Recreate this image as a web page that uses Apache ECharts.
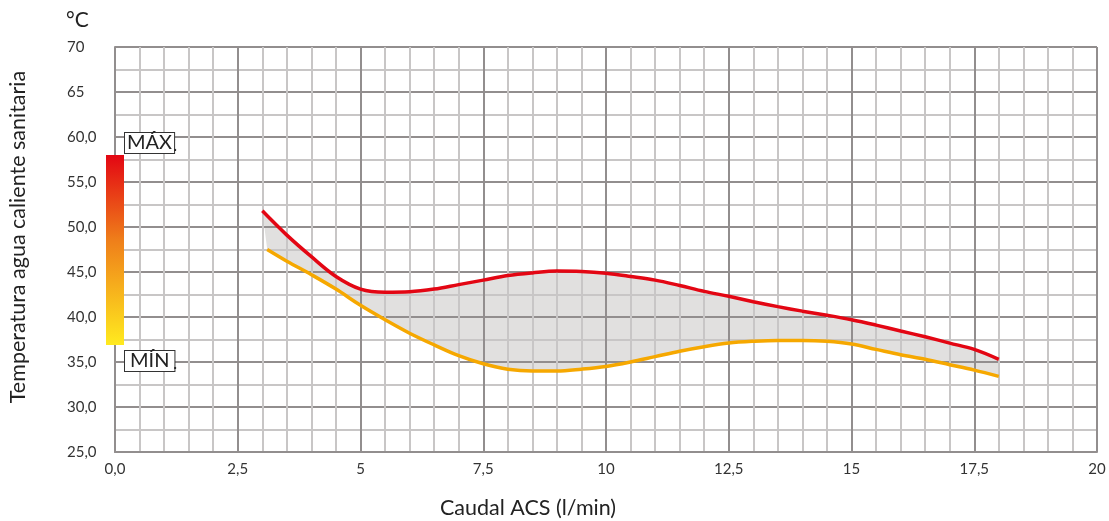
<!DOCTYPE html>
<html>
<head>
<meta charset="utf-8">
<script src="https://cdn.jsdelivr.net/npm/echarts@6/dist/echarts.min.js"></script>
<style>
html,body{margin:0;padding:0;background:#fff;}
#chart{width:1109px;height:521px;}
</style>
</head>
<body>
<div id="chart"></div>
<script>
// Data
const flowMax = [3.0,3.5,4.0,4.5,5.0,5.5,6.0,6.5,7.0,7.5,8.0,8.5,9.0,9.5,10.0,10.5,11.0,11.5,12.0,12.5,13.0,13.5,14.0,14.5,15.0,15.5,16.0,16.5,17.0,17.5,18.0];
const tempMax = [51.8,49.1,46.7,44.5,43.1,42.75,42.8,43.1,43.6,44.1,44.6,44.9,45.1,45.05,44.85,44.5,44.1,43.5,42.85,42.3,41.7,41.15,40.65,40.2,39.7,39.1,38.45,37.8,37.1,36.4,35.3];
const flowMin = [3.1,3.5,4.0,4.5,5.0,5.5,6.0,6.5,7.0,7.5,8.0,8.5,9.0,9.5,10.0,10.5,11.0,11.5,12.0,12.5,13.0,13.5,14.0,14.5,15.0,15.5,16.0,16.5,17.0,17.5,18.0];
const tempMin = [47.5,46.2,44.7,43.1,41.3,39.7,38.2,36.9,35.7,34.8,34.2,34.0,34.0,34.2,34.5,35.0,35.6,36.2,36.7,37.1,37.3,37.4,37.4,37.3,37.0,36.4,35.8,35.3,34.7,34.1,33.4];
const xTickValues = [0,2.5,5,7.5,10,12.5,15,17.5,20];
const xTickLabels = ['0,0','2,5','5','7,5','10','12,5','15','17,5','20'];
const yTickValues = [25,30,35,40,45,50,55,60,65,70];
const yTickLabels = ['25,0','30,0','35,0','40,0','45,0','50,0','55,0','60,0','65','70'];

const maxPts = flowMax.map((x,i)=>[x,tempMax[i]]);
const minPts = flowMin.map((x,i)=>[x,tempMin[i]]);

const FONT = 'Lato';
const chart = echarts.init(document.getElementById('chart'), null, {renderer:'canvas'});
const major = '#928e8e', minor = '#c8c6c6';

function lbl(values, labels){
  return function(v){
    for (let i=0;i<values.length;i++){ if (Math.abs(values[i]-v)<1e-6) return labels[i]; }
    return '';
  };
}

chart.setOption({
  animation:false,
  grid:{left:115, top:47, right:12, bottom:69},
  xAxis:{
    type:'value', min:0, max:20, interval:2.5,
    axisLine:{show:true, onZero:false, lineStyle:{color:major, width:2}},
    axisTick:{show:false},
    axisLabel:{margin:10, fontFamily:FONT, fontSize:15, color:'#333', formatter:lbl(xTickValues,xTickLabels)},
    splitLine:{show:true, lineStyle:{color:major, width:2}},
    minorTick:{show:false, splitNumber:5},
    minorSplitLine:{show:true, lineStyle:{color:minor, width:2}}
  },
  yAxis:{
    type:'value', min:25, max:70, interval:5,
    axisLine:{show:true, onZero:false, lineStyle:{color:major, width:2}},
    axisTick:{show:false},
    axisLabel:{margin:48, align:'left', fontFamily:FONT, fontSize:15, color:'#333', formatter:lbl(yTickValues,yTickLabels)},
    splitLine:{show:true, lineStyle:{color:major, width:2}},
    minorTick:{show:false, splitNumber:2},
    minorSplitLine:{show:true, lineStyle:{color:minor, width:2}}
  },
  series:[
    {
      type:'custom', z:-1, silent:true,
      data:[[0,0]],
      renderItem:function(params, api){
        const pts = maxPts.map(p=>api.coord(p)).concat(minPts.slice().reverse().map(p=>api.coord(p)));
        return {type:'polygon', shape:{points:pts}, style:{fill:'#e1e0df'}};
      }
    },
    {
      type:'line', data:minPts, smooth:0.35, symbol:'none',
      lineStyle:{color:'#f6a800', width:3.5}
    },
    {
      type:'line', data:maxPts, smooth:0.35, symbol:'none',
      lineStyle:{color:'#e30613', width:3.5}
    }
  ],
  graphic:[
    {type:'rect', z:100, shape:{x:106, y:155, width:18, height:190},
      style:{fill:new echarts.graphic.LinearGradient(0,0,0,1,[{offset:0,color:'#e30613'},{offset:0.45,color:'#ef7f1a'},{offset:1,color:'#ffea1f'}])}},
    {type:'text', z:100, left:124, top:132, style:{text:'MÁX', font:'20px '+FONT, fill:'#222', borderColor:'#333', borderWidth:1, padding:[0,2,0,2], backgroundColor:'#fff'}},
    {type:'text', z:100, left:173, top:136, style:{text:'.', font:'18px '+FONT, fill:'#222'}},
    {type:'text', z:100, left:124, top:350, style:{text:'MÍN', font:'20px '+FONT, fill:'#222', borderColor:'#333', borderWidth:1, padding:[0,5,0,5], backgroundColor:'#fff'}},
    {type:'text', z:100, left:173, top:354, style:{text:'.', font:'18px '+FONT, fill:'#222'}},
    {type:'text', z:100, left:66, top:10, style:{text:'°C', font:'21px '+FONT, fill:'#222'}},
    {type:'text', z:100, x:18, y:237, rotation:Math.PI/2,
      style:{text:'Temperatura agua caliente sanitaria', font:'21.5px '+FONT, fill:'#222', align:'center', verticalAlign:'middle'}},
    {type:'text', z:100, x:528, y:508,
      style:{text:'Caudal ACS (l/min)', font:'21.5px '+FONT, fill:'#222', align:'center', verticalAlign:'middle'}}
  ]
});
</script>
</body>
</html>
